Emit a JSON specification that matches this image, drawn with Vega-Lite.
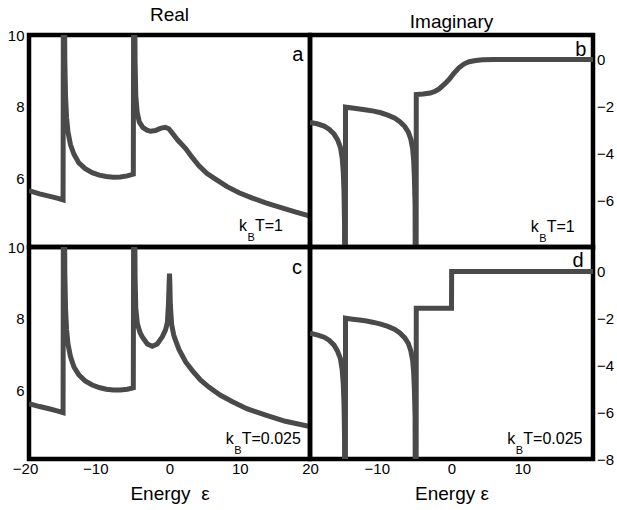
{
  "$schema": "https://vega.github.io/schema/vega-lite/v6.json",
  "background": "white",
  "padding": {"left": 5, "top": 3, "right": 0, "bottom": 0},
  "config": {
    "font": "Liberation Sans",
    "view": {"stroke": "black", "strokeWidth": 4.5},
    "axis": {
      "domain": false,
      "grid": false,
      "ticks": false,
      "labelFontSize": 15,
      "labelColor": "black",
      "labelFlush": false,
      "labelOverlap": false,
      "titleFontSize": 19,
      "titleFontWeight": "normal",
      "titleColor": "black"
    },
    "title": {"fontSize": 19, "fontWeight": "normal", "anchor": "middle", "baseline": "alphabetic", "offset": 3, "color": "black"},
    "text": {"color": "black"}
  },
  "datasets": {
    "realHot": [
      {"i": 0, "e": -20, "v": 5.67}, {"i": 1, "e": -18.5, "v": 5.58}, {"i": 2, "e": -17, "v": 5.51},
      {"i": 3, "e": -16, "v": 5.46}, {"i": 4, "e": -15.15, "v": 5.41}, {"i": 5, "e": -15.1, "v": 12},
      {"i": 6, "e": -14.98, "v": 12}, {"i": 7, "e": -14.9, "v": 9.3}, {"i": 8, "e": -14.8, "v": 8.3},
      {"i": 9, "e": -14.65, "v": 7.7}, {"i": 10, "e": -14.45, "v": 7.3}, {"i": 11, "e": -14.1, "v": 6.95},
      {"i": 12, "e": -13.6, "v": 6.68}, {"i": 13, "e": -12.9, "v": 6.44}, {"i": 14, "e": -12, "v": 6.28},
      {"i": 15, "e": -11, "v": 6.17}, {"i": 16, "e": -10, "v": 6.1}, {"i": 17, "e": -9, "v": 6.06},
      {"i": 18, "e": -8, "v": 6.04}, {"i": 19, "e": -7, "v": 6.05}, {"i": 20, "e": -6, "v": 6.08},
      {"i": 21, "e": -5.15, "v": 6.13}, {"i": 22, "e": -5.1, "v": 12}, {"i": 23, "e": -4.98, "v": 12},
      {"i": 24, "e": -4.9, "v": 9.3}, {"i": 25, "e": -4.8, "v": 8.3}, {"i": 26, "e": -4.6, "v": 7.85},
      {"i": 27, "e": -4.3, "v": 7.58}, {"i": 28, "e": -3.8, "v": 7.43}, {"i": 29, "e": -3.2, "v": 7.35},
      {"i": 30, "e": -2.7, "v": 7.32}, {"i": 31, "e": -2.0, "v": 7.34}, {"i": 32, "e": -1.3, "v": 7.4},
      {"i": 33, "e": -0.6, "v": 7.43}, {"i": 34, "e": -0.1, "v": 7.39}, {"i": 35, "e": 0.4, "v": 7.27},
      {"i": 36, "e": 1.2, "v": 7.07}, {"i": 37, "e": 2.3, "v": 6.84}, {"i": 38, "e": 3.2, "v": 6.6},
      {"i": 39, "e": 4.2, "v": 6.36}, {"i": 40, "e": 5.3, "v": 6.15}, {"i": 41, "e": 6.6, "v": 5.98},
      {"i": 42, "e": 8.2, "v": 5.78}, {"i": 43, "e": 9.9, "v": 5.61}, {"i": 44, "e": 11.8, "v": 5.46},
      {"i": 45, "e": 13.7, "v": 5.33}, {"i": 46, "e": 16, "v": 5.19}, {"i": 47, "e": 18, "v": 5.07},
      {"i": 48, "e": 20, "v": 4.96}
    ],
    "realCold": [
      {"i": 0, "e": -20, "v": 5.64}, {"i": 1, "e": -18.5, "v": 5.56}, {"i": 2, "e": -17, "v": 5.49},
      {"i": 3, "e": -16, "v": 5.44}, {"i": 4, "e": -15.15, "v": 5.39}, {"i": 5, "e": -15.1, "v": 12},
      {"i": 6, "e": -14.98, "v": 12}, {"i": 7, "e": -14.9, "v": 9.3}, {"i": 8, "e": -14.8, "v": 8.3},
      {"i": 9, "e": -14.65, "v": 7.7}, {"i": 10, "e": -14.45, "v": 7.3}, {"i": 11, "e": -14.1, "v": 6.95},
      {"i": 12, "e": -13.6, "v": 6.66}, {"i": 13, "e": -12.9, "v": 6.44}, {"i": 14, "e": -12, "v": 6.27},
      {"i": 15, "e": -11, "v": 6.16}, {"i": 16, "e": -10, "v": 6.09}, {"i": 17, "e": -9, "v": 6.04},
      {"i": 18, "e": -8, "v": 6.02}, {"i": 19, "e": -7, "v": 6.02}, {"i": 20, "e": -6, "v": 6.04},
      {"i": 21, "e": -5.15, "v": 6.08}, {"i": 22, "e": -5.1, "v": 12}, {"i": 23, "e": -4.98, "v": 12},
      {"i": 24, "e": -4.9, "v": 9.2}, {"i": 25, "e": -4.8, "v": 8.3}, {"i": 26, "e": -4.58, "v": 7.87},
      {"i": 27, "e": -4.2, "v": 7.62}, {"i": 28, "e": -3.87, "v": 7.5}, {"i": 29, "e": -3.16, "v": 7.3},
      {"i": 30, "e": -2.45, "v": 7.24}, {"i": 31, "e": -1.74, "v": 7.3}, {"i": 32, "e": -1.03, "v": 7.5},
      {"i": 33, "e": -0.55, "v": 7.7}, {"i": 34, "e": -0.3, "v": 7.9}, {"i": 35, "e": -0.15, "v": 8.4},
      {"i": 36, "e": -0.05, "v": 9.0}, {"i": 37, "e": 0, "v": 9.26}, {"i": 38, "e": 0.05, "v": 9.0},
      {"i": 39, "e": 0.12, "v": 8.4}, {"i": 40, "e": 0.3, "v": 7.85}, {"i": 41, "e": 0.6, "v": 7.55},
      {"i": 42, "e": 0.9, "v": 7.38}, {"i": 43, "e": 1.35, "v": 7.15}, {"i": 44, "e": 2.3, "v": 6.8},
      {"i": 45, "e": 3.25, "v": 6.56}, {"i": 46, "e": 4.4, "v": 6.3}, {"i": 47, "e": 5.6, "v": 6.1},
      {"i": 48, "e": 7.2, "v": 5.88}, {"i": 49, "e": 8.9, "v": 5.7}, {"i": 50, "e": 11, "v": 5.5},
      {"i": 51, "e": 13.7, "v": 5.32}, {"i": 52, "e": 16.5, "v": 5.15}, {"i": 53, "e": 20, "v": 5.0}
    ],
    "imagHot": [
      {"i": 0, "e": -20, "v": -2.68}, {"i": 1, "e": -19, "v": -2.74}, {"i": 2, "e": -18, "v": -2.84},
      {"i": 3, "e": -17.3, "v": -2.97}, {"i": 4, "e": -16.6, "v": -3.18}, {"i": 5, "e": -16.1, "v": -3.43},
      {"i": 6, "e": -15.7, "v": -3.75}, {"i": 7, "e": -15.45, "v": -4.2}, {"i": 8, "e": -15.3, "v": -4.8},
      {"i": 9, "e": -15.2, "v": -5.6}, {"i": 10, "e": -15.12, "v": -7}, {"i": 11, "e": -15.08, "v": -12},
      {"i": 12, "e": -15.0, "v": -12}, {"i": 13, "e": -14.98, "v": -2.03}, {"i": 14, "e": -14, "v": -2.07},
      {"i": 15, "e": -13, "v": -2.11}, {"i": 16, "e": -12, "v": -2.15}, {"i": 17, "e": -11, "v": -2.2},
      {"i": 18, "e": -10, "v": -2.27}, {"i": 19, "e": -9, "v": -2.37}, {"i": 20, "e": -8, "v": -2.5},
      {"i": 21, "e": -7.3, "v": -2.65}, {"i": 22, "e": -6.6, "v": -2.86}, {"i": 23, "e": -6.1, "v": -3.1},
      {"i": 24, "e": -5.75, "v": -3.4}, {"i": 25, "e": -5.5, "v": -3.8}, {"i": 26, "e": -5.35, "v": -4.3},
      {"i": 27, "e": -5.25, "v": -5.0}, {"i": 28, "e": -5.15, "v": -6.2}, {"i": 29, "e": -5.1, "v": -12},
      {"i": 30, "e": -5.0, "v": -12}, {"i": 31, "e": -4.98, "v": -1.49}, {"i": 32, "e": -4, "v": -1.47},
      {"i": 33, "e": -3, "v": -1.43}, {"i": 34, "e": -2.3, "v": -1.35}, {"i": 35, "e": -1.75, "v": -1.25},
      {"i": 36, "e": -1.0, "v": -1.05}, {"i": 37, "e": -0.35, "v": -0.85}, {"i": 38, "e": 0.3, "v": -0.6},
      {"i": 39, "e": 1.05, "v": -0.35}, {"i": 40, "e": 1.8, "v": -0.18}, {"i": 41, "e": 2.5, "v": -0.09},
      {"i": 42, "e": 3.4, "v": -0.04}, {"i": 43, "e": 4.4, "v": -0.01}, {"i": 44, "e": 6, "v": 0},
      {"i": 45, "e": 20, "v": 0}
    ],
    "imagCold": [
      {"i": 0, "e": -20, "v": -2.63}, {"i": 1, "e": -19, "v": -2.7}, {"i": 2, "e": -18, "v": -2.8},
      {"i": 3, "e": -17.3, "v": -2.93}, {"i": 4, "e": -16.6, "v": -3.14}, {"i": 5, "e": -16.1, "v": -3.4},
      {"i": 6, "e": -15.7, "v": -3.72}, {"i": 7, "e": -15.45, "v": -4.2}, {"i": 8, "e": -15.3, "v": -4.8},
      {"i": 9, "e": -15.2, "v": -5.6}, {"i": 10, "e": -15.12, "v": -7}, {"i": 11, "e": -15.08, "v": -12},
      {"i": 12, "e": -15.0, "v": -12}, {"i": 13, "e": -14.98, "v": -1.99}, {"i": 14, "e": -14, "v": -2.03},
      {"i": 15, "e": -13, "v": -2.07}, {"i": 16, "e": -12, "v": -2.11}, {"i": 17, "e": -11, "v": -2.17},
      {"i": 18, "e": -10, "v": -2.24}, {"i": 19, "e": -9, "v": -2.34}, {"i": 20, "e": -8, "v": -2.47},
      {"i": 21, "e": -7.3, "v": -2.62}, {"i": 22, "e": -6.6, "v": -2.83}, {"i": 23, "e": -6.1, "v": -3.07},
      {"i": 24, "e": -5.75, "v": -3.38}, {"i": 25, "e": -5.5, "v": -3.78}, {"i": 26, "e": -5.35, "v": -4.3},
      {"i": 27, "e": -5.25, "v": -5.0}, {"i": 28, "e": -5.15, "v": -6.2}, {"i": 29, "e": -5.1, "v": -12},
      {"i": 30, "e": -5.0, "v": -12}, {"i": 31, "e": -4.98, "v": -1.56}, {"i": 32, "e": 0, "v": -1.56},
      {"i": 33, "e": 0.02, "v": 0}, {"i": 34, "e": 20, "v": 0}
    ]
  },
  "columns": 2,
  "spacing": 0,
  "bounds": "flush",
  "concat": [
    {
      "width": 281,
      "height": 212,
      "title": "Real",
      "encoding": {
        "x": {"field": "e", "type": "quantitative", "scale": {"domain": [-20, 20], "nice": false, "zero": false}, "axis": null},
        "y": {"field": "v", "type": "quantitative", "scale": {"domain": [4.1, 10], "nice": false, "zero": false},
              "axis": {"values": [6, 8, 10], "title": null, "labelPadding": 5}}
      },
      "layer": [
        {"data": {"name": "realHot"}, "mark": {"type": "line", "clip": true, "color": "#4a4a4a", "strokeWidth": 5},
         "encoding": {"order": {"field": "i", "type": "quantitative"}}},
        {"data": {"values": [{"e": 18.25, "v": 9.27, "t": "a"}]},
         "mark": {"type": "text", "fontSize": 20, "align": "center", "baseline": "alphabetic"},
         "encoding": {"text": {"field": "t"}}},
        {"data": {"values": [{"e": 9.89, "v": 4.54, "t": "T=1"}]},
         "layer": [
           {"mark": {"type": "text", "text": "k", "fontSize": 16, "align": "left", "baseline": "alphabetic"}},
           {"mark": {"type": "text", "text": "B", "fontSize": 11, "align": "left", "baseline": "alphabetic", "dx": 8.5, "dy": 9.5}},
           {"mark": {"type": "text", "fontSize": 16, "align": "left", "baseline": "alphabetic", "dx": 16},
            "encoding": {"text": {"field": "t"}}}
         ]}
      ]
    },
    {
      "width": 283,
      "height": 212,
      "title": "Imaginary",
      "encoding": {
        "x": {"field": "e", "type": "quantitative", "scale": {"domain": [-20, 20], "nice": false, "zero": false}, "axis": null},
        "y": {"field": "v", "type": "quantitative", "scale": {"domain": [-8, 1.05], "nice": false, "zero": false},
              "axis": {"orient": "right", "values": [0, -2, -4, -6], "title": null, "labelPadding": 3.5}}
      },
      "layer": [
        {"data": {"name": "imagHot"}, "mark": {"type": "line", "clip": true, "color": "#4a4a4a", "strokeWidth": 5},
         "encoding": {"order": {"field": "i", "type": "quantitative"}}},
        {"data": {"values": [{"e": 18.26, "v": 0.15, "t": "b"}]},
         "mark": {"type": "text", "fontSize": 20, "align": "center", "baseline": "alphabetic"},
         "encoding": {"text": {"field": "t"}}},
        {"data": {"values": [{"e": 11.19, "v": -7.36, "t": "T=1"}]},
         "layer": [
           {"mark": {"type": "text", "text": "k", "fontSize": 16, "align": "left", "baseline": "alphabetic"}},
           {"mark": {"type": "text", "text": "B", "fontSize": 11, "align": "left", "baseline": "alphabetic", "dx": 8.5, "dy": 9.5}},
           {"mark": {"type": "text", "fontSize": 16, "align": "left", "baseline": "alphabetic", "dx": 16},
            "encoding": {"text": {"field": "t"}}}
         ]}
      ]
    },
    {
      "width": 281,
      "height": 212,
      "encoding": {
        "x": {"field": "e", "type": "quantitative", "scale": {"domain": [-20, 20], "nice": false, "zero": false},
              "axis": {"values": [-20, -10, 0, 10, 20], "title": "Energy\u00a0\u00a0ε", "labelPadding": 2, "titlePadding": 8,
                       "labelOffset": {"condition": {"test": "datum.value < 0", "value": -4}, "value": 0}}},
        "y": {"field": "v", "type": "quantitative", "scale": {"domain": [4.1, 10], "nice": false, "zero": false},
              "axis": {"values": [6, 8, 10], "title": null, "labelPadding": 5}}
      },
      "layer": [
        {"data": {"name": "realCold"}, "mark": {"type": "line", "clip": true, "color": "#4a4a4a", "strokeWidth": 5},
         "encoding": {"order": {"field": "i", "type": "quantitative"}}},
        {"data": {"values": [{"e": 18.15, "v": 9.26, "t": "c"}]},
         "mark": {"type": "text", "fontSize": 20, "align": "center", "baseline": "alphabetic"},
         "encoding": {"text": {"field": "t"}}},
        {"data": {"values": [{"e": 8.0, "v": 4.51, "t": "T=0.025"}]},
         "layer": [
           {"mark": {"type": "text", "text": "k", "fontSize": 16, "align": "left", "baseline": "alphabetic"}},
           {"mark": {"type": "text", "text": "B", "fontSize": 11, "align": "left", "baseline": "alphabetic", "dx": 8.5, "dy": 9.5}},
           {"mark": {"type": "text", "fontSize": 16, "align": "left", "baseline": "alphabetic", "dx": 16},
            "encoding": {"text": {"field": "t"}}}
         ]}
      ]
    },
    {
      "width": 283,
      "height": 212,
      "encoding": {
        "x": {"field": "e", "type": "quantitative", "scale": {"domain": [-20, 20], "nice": false, "zero": false},
              "axis": {"values": [-10, 0, 10], "title": "Energy ε", "labelPadding": 2, "titlePadding": 8,
                       "labelOffset": {"condition": {"test": "datum.value < 0", "value": -4}, "value": 0}}},
        "y": {"field": "v", "type": "quantitative", "scale": {"domain": [-8, 1.05], "nice": false, "zero": false},
              "axis": {"orient": "right", "values": [0, -2, -4, -6, -8], "title": null, "labelPadding": 3.5}}
      },
      "layer": [
        {"data": {"name": "imagCold"}, "mark": {"type": "line", "clip": true, "color": "#4a4a4a", "strokeWidth": 5},
         "encoding": {"order": {"field": "i", "type": "quantitative"}}},
        {"data": {"values": [{"e": 17.88, "v": 0.21, "t": "d"}]},
         "mark": {"type": "text", "fontSize": 20, "align": "center", "baseline": "alphabetic"},
         "encoding": {"text": {"field": "t"}}},
        {"data": {"values": [{"e": 7.89, "v": -7.36, "t": "T=0.025"}]},
         "layer": [
           {"mark": {"type": "text", "text": "k", "fontSize": 16, "align": "left", "baseline": "alphabetic"}},
           {"mark": {"type": "text", "text": "B", "fontSize": 11, "align": "left", "baseline": "alphabetic", "dx": 8.5, "dy": 9.5}},
           {"mark": {"type": "text", "fontSize": 16, "align": "left", "baseline": "alphabetic", "dx": 16},
            "encoding": {"text": {"field": "t"}}}
         ]}
      ]
    }
  ]
}
